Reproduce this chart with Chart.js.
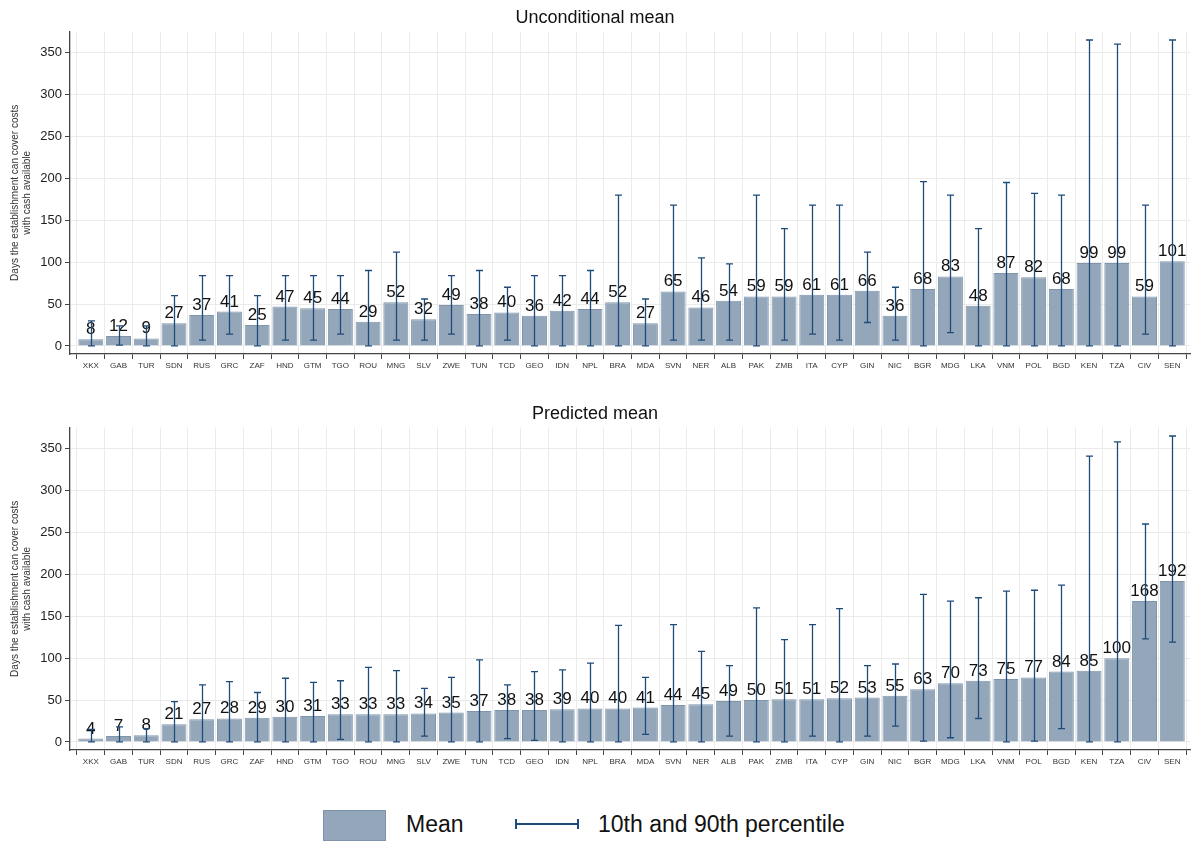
<!DOCTYPE html>
<html>
<head>
<meta charset="utf-8">
<script src="https://cdn.jsdelivr.net/npm/chart.js@4.4.1/dist/chart.umd.min.js"></script>
<style>
  html, body { margin: 0; padding: 0; background: #fff; }
  #wrap { position: relative; width: 1191px; height: 841px; font-family: "Liberation Sans", Arial, sans-serif; }
  canvas { position: absolute; left: 0; }
  #c1 { top: 0; }
  #c2 { top: 396px; }
  .legend { position: absolute; top: 808px; left: 0; width: 1191px; height: 34px; }
  .swatch { position: absolute; left: 323px; top: 2px; width: 61px; height: 29px; background: #94a7ba; border: 1px solid #7d93aa; }
  .lab { position: absolute; top: 3px; font-size: 23px; color: #111; line-height: 26px; }
  .ebar { position: absolute; left: 515px; top: 11px; width: 64px; height: 10px; }
  .ebar .h { position: absolute; left: 0; right: 0; top: 4px; height: 2px; background: #1f4b7a; }
  .ebar .l, .ebar .r { position: absolute; top: 0; width: 2px; height: 10px; background: #1f4b7a; }
  .ebar .l { left: 0; } .ebar .r { right: 0; }
</style>
</head>
<body>
<div id="wrap">
  <canvas id="c1" width="1191" height="380"></canvas>
  <canvas id="c2" width="1191" height="380"></canvas>
  <div class="legend">
    <div class="swatch"></div>
    <div class="lab" style="left:406px">Mean</div>
    <div class="ebar"><div class="h"></div><div class="l"></div><div class="r"></div></div>
    <div class="lab" style="left:598px">10th and 90th percentile</div>
  </div>
</div>
<script>
const categories = ['XKX','GAB','TUR','SDN','RUS','GRC','ZAF','HND','GTM','TGO','ROU','MNG','SLV','ZWE','TUN','TCD','GEO','IDN','NPL','BRA','MDA','SVN','NER','ALB','PAK','ZMB','ITA','CYP','GIN','NIC','BGR','MDG','LKA','VNM','POL','BGD','KEN','TZA','CIV','SEN']

const uncondMean = [8,12,9,27,37,41,25,47,45,44,29,52,32,49,38,40,36,42,44,52,27,65,46,54,59,59,61,61,66,36,68,83,48,87,82,68,99,99,59,101]
const uncondP10  = [0,1,0,0,7,14,0,7,7,14,0,7,7,14,0,7,0,0,0,0,0,7,7,7,0,7,14,7,28,7,0,16,0,0,0,0,0,0,14,0]
const uncondP90  = [30,24,24,60,84,84,60,84,84,84,90,112,56,84,90,70,84,84,90,180,56,168,105,98,180,140,168,168,112,70,196,180,140,195,182,180,365,360,168,365]

const predMean = [4,7,8,21,27,28,29,30,31,33,33,33,34,35,37,38,38,39,40,40,41,44,45,49,50,51,51,52,53,55,63,70,73,75,77,84,85,100,168,192]
const predP10  = [0,0,0,0,0,0,0,0,0,3,0,0,7,0,0,4,2,0,0,0,9,0,0,7,0,0,7,0,7,19,1,5,28,0,1,16,0,0,123,119]
const predP90  = [15,18,16,48,68,72,59,76,71,73,89,85,64,77,98,68,84,86,94,139,77,140,108,91,160,122,140,159,91,93,176,168,172,180,181,187,341,358,260,365]

const yTicks = [0, 50, 100, 150, 200, 250, 300, 350]
const yTitle = ['Days the establishment can cover costs', 'with cash available']

const FONT = '"Liberation Sans", Arial, sans-serif'
const BAR_FILL = '#94a7ba'
const BAR_EDGE = '#7e95ac'
const WHISKER = '#1f4b7a'

// value labels above bars
const valueLabels = {
  id: 'valueLabels',
  afterDatasetsDraw(chart) {
    const ctx = chart.ctx
    const meta = chart.getDatasetMeta(0)
    ctx.save()
    ctx.font = '17px ' + FONT
    ctx.fillStyle = '#111'
    ctx.textAlign = 'center'
    ctx.textBaseline = 'alphabetic'
    meta.data.forEach((bar, i) => {
      ctx.fillText(String(chart.data.datasets[0].data[i].y), bar.x, bar.y - 5)
    })
    ctx.restore()
  }
}

// 10th / 90th percentile whiskers, drawn after labels
const whiskers = {
  id: 'whiskers',
  afterDatasetsDraw(chart, args, opts) {
    const ctx = chart.ctx
    const xs = chart.scales.x
    const ys = chart.scales.y
    ctx.save()
    ctx.strokeStyle = WHISKER
    ctx.lineWidth = 1.3
    opts.lo.forEach((lo, i) => {
      const x = Math.round(xs.getPixelForValue(i)) + 0.5
      const y1 = ys.getPixelForValue(lo)
      const y2 = ys.getPixelForValue(opts.hi[i])
      ctx.beginPath()
      ctx.moveTo(x, y1); ctx.lineTo(x, y2)
      ctx.moveTo(x - 3.5, y1); ctx.lineTo(x + 3.5, y1)
      ctx.moveTo(x - 3.5, y2); ctx.lineTo(x + 3.5, y2)
      ctx.stroke()
    })
    ctx.restore()
  }
}

function makeChart(id, title, means, lo, hi) {
  const ctx = document.getElementById(id).getContext('2d')
  return new Chart(ctx, {
    type: 'bar',
    data: {
      datasets: [{
        label: 'Mean',
        data: means.map((v, i) => ({ x: i, y: v })),
        backgroundColor: BAR_FILL,
        borderColor: BAR_EDGE,
        borderWidth: 1,
        barPercentage: 0.9,
        categoryPercentage: 1
      }]
    },
    plugins: [valueLabels, whiskers],
    options: {
      responsive: false,
      animation: false,
      devicePixelRatio: 1,
      layout: { padding: { left: 0, right: 1, top: 0, bottom: 0 } },
      plugins: {
        legend: { display: false },
        tooltip: { enabled: false },
        title: {
          display: true,
          text: title,
          color: '#111',
          font: { size: 18, family: FONT, weight: 'normal' },
          padding: { top: 7, bottom: 3 }
        },
        whiskers: { lo, hi }
      },
      scales: {
        x: {
          type: 'linear',
          min: -0.75,
          max: 39.64,
          offset: false,
          afterBuildTicks: (axis) => { axis.ticks = categories.map((c, i) => ({ value: i })) },
          afterFit: (axis) => { axis.height = 26 },
          ticks: {
            autoSkip: false,
            maxRotation: 0,
            padding: 2,
            color: '#333',
            font: { size: 8, family: FONT },
            callback: (v) => categories[v]
          },
          grid: { color: '#ebebeb', tickColor: '#444', tickLength: 5, lineWidth: 1 },
          border: { display: true, color: '#444', width: 1.3 }
        },
        y: {
          min: -9.6,
          max: 375,
          afterBuildTicks: (axis) => { axis.ticks = yTicks.map(v => ({ value: v })) },
          afterFit: (axis) => { axis.width = 70 },
          ticks: {
            padding: 3,
            color: '#222',
            font: { size: 13, family: FONT }
          },
          grid: { color: '#ebebeb', tickColor: '#444', tickLength: 5, lineWidth: 1 },
          border: { display: true, color: '#444', width: 1.3 },
          title: {
            display: true,
            text: yTitle,
            color: '#333',
            font: { size: 10, family: FONT },
            padding: { top: 9, bottom: 0 }
          }
        }
      }
    }
  })
}

window.addEventListener('load', () => {
  makeChart('c1', 'Unconditional mean', uncondMean, uncondP10, uncondP90)
  makeChart('c2', 'Predicted mean', predMean, predP10, predP90)
})
</script>
</body>
</html>
